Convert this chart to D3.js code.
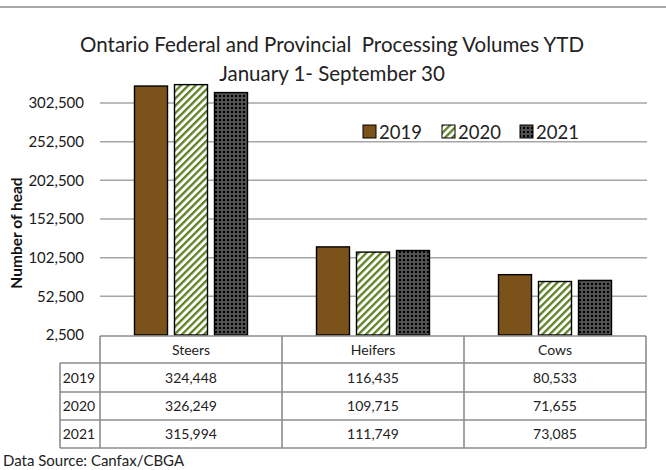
<!DOCTYPE html>
<html>
<head>
<meta charset="utf-8">
<script src="https://cdn.jsdelivr.net/npm/d3@7"></script>
<style>
  body { margin:0; background:#fff; }
  svg { display:block; font-family: Lato, "Open Sans", sans-serif; }
</style>
</head>
<body>
<svg id="chart" width="666" height="470"></svg>
<script>
const categories = ['Steers', 'Heifers', 'Cows'];
const years = ['2019', '2020', '2021'];
const values2019 = [324448, 116435, 80533];
const values2020 = [326249, 109715, 71655];
const values2021 = [315994, 111749, 73085];
const yTicks = [2500, 52500, 102500, 152500, 202500, 252500, 302500];

const seriesValues = [values2019, values2020, values2021];

const width = 666, height = 470;
const margin = { top: 103, right: 20, bottom: 135, left: 100 };
const plotRight = 646;
const axisY = 335;

const svg = d3.select('#chart');

// patterns
const defs = svg.append('defs');
const stripes = defs.append('pattern')
  .attr('id', 'stripes')
  .attr('patternUnits', 'userSpaceOnUse')
  .attr('width', 5.2).attr('height', 5.2)
  .attr('patternTransform', 'rotate(45)');
stripes.append('rect').attr('width', 5.2).attr('height', 5.2).attr('fill', '#fff');
stripes.append('rect').attr('width', 2.3).attr('height', 5.2).attr('fill', '#5e8122');

const weave = defs.append('pattern')
  .attr('id', 'weave')
  .attr('patternUnits', 'userSpaceOnUse')
  .attr('width', 4).attr('height', 4);
weave.append('rect').attr('width', 4).attr('height', 4).attr('fill', '#000');
weave.append('circle').attr('cx', 2).attr('cy', 2).attr('r', 1.3)
  .attr('fill', 'none').attr('stroke', '#fff').attr('stroke-width', 0.5);

const fills = ['#7b5219', 'url(#stripes)', 'url(#weave)'];

// top frame line
svg.append('line')
  .attr('x1', 0).attr('x2', width).attr('y1', 7).attr('y2', 7)
  .attr('stroke', '#a6a6a6').attr('stroke-width', 2);

// title
svg.append('text')
  .attr('x', 332).attr('y', 52)
  .attr('text-anchor', 'middle')
  .attr('font-size', 20.5)
  .attr('fill', '#222')
  .text('Ontario Federal and Provincial  Processing Volumes YTD')
  .style('white-space', 'pre');
svg.append('text')
  .attr('x', 332).attr('y', 81)
  .attr('text-anchor', 'middle')
  .attr('font-size', 20.5)
  .attr('fill', '#222')
  .text('January 1- September 30');

const x0 = d3.scaleBand().domain(categories).range([margin.left, plotRight]);
const x1 = d3.scaleBand().domain(years).range([0, 113]).paddingInner(0.175);
const y = d3.scaleLinear().domain([2500, 302500]).range([axisY, margin.top]);

// gridlines
svg.append('g')
  .selectAll('line')
  .data(yTicks.slice(1))
  .join('line')
  .attr('x1', margin.left).attr('x2', plotRight + 1)
  .attr('y1', d => y(d)).attr('y2', d => y(d))
  .attr('stroke', '#a6a6a6').attr('stroke-width', 1.5);

// y axis labels
const yAxis = d3.axisLeft(y).tickValues(yTicks).tickSize(0).tickPadding(0)
  .tickFormat(d3.format(','));
svg.append('g')
  .attr('transform', 'translate(84,0)')
  .call(yAxis)
  .call(g => g.select('.domain').remove())
  .call(g => g.selectAll('text')
    .attr('font-family', 'Lato, sans-serif')
    .attr('font-size', 15)
    .attr('fill', '#1a1a1a'));

svg.append('text')
  .attr('transform', 'translate(22,233) rotate(-90)')
  .attr('text-anchor', 'middle')
  .attr('font-size', 15.5)
  .attr('font-weight', 'bold')
  .attr('fill', '#111')
  .text('Number of head');

// bars
const groupOffset = (x0.bandwidth() - 113) / 2;
categories.forEach((cat, ci) => {
  years.forEach((yr, si) => {
    const v = seriesValues[si][ci];
    svg.append('rect')
      .attr('x', x0(cat) + groupOffset + x1(yr))
      .attr('y', y(v))
      .attr('width', x1.bandwidth())
      .attr('height', axisY - y(v))
      .attr('fill', fills[si])
      .attr('stroke', '#000')
      .attr('stroke-width', 1.4);
  });
});

// legend
const legendX = [363, 442, 520];
years.forEach((yr, i) => {
  svg.append('rect')
    .attr('x', legendX[i]).attr('y', 125)
    .attr('width', 13).attr('height', 13)
    .attr('fill', fills[i])
    .attr('stroke', '#000').attr('stroke-width', 1);
  svg.append('text')
    .attr('x', legendX[i] + 16).attr('y', 139)
    .attr('font-size', 18.5)
    .attr('fill', '#222')
    .text(yr);
});

// data table
const tableColor = '#8c8c8c';
const rowTop = [336, 363, 392, 420];
const tableBottom = 448;
const tableLeft = 60;
const tbl = svg.append('g').attr('stroke', tableColor).attr('stroke-width', 1.6);
tbl.append('line').attr('x1', margin.left).attr('x2', plotRight).attr('y1', rowTop[0]).attr('y2', rowTop[0]);
[rowTop[1], rowTop[2], rowTop[3], tableBottom].forEach(yy => {
  tbl.append('line').attr('x1', tableLeft).attr('x2', plotRight).attr('y1', yy).attr('y2', yy);
});
tbl.append('line').attr('x1', tableLeft).attr('x2', tableLeft).attr('y1', rowTop[1]).attr('y2', tableBottom);
categories.forEach(cat => {
  tbl.append('line').attr('x1', x0(cat)).attr('x2', x0(cat)).attr('y1', rowTop[0]).attr('y2', tableBottom);
});
tbl.append('line').attr('x1', plotRight).attr('x2', plotRight).attr('y1', rowTop[0]).attr('y2', tableBottom);

const fmt = d3.format(',');
categories.forEach(cat => {
  svg.append('text')
    .attr('x', x0(cat) + x0.bandwidth() / 2).attr('y', 355)
    .attr('text-anchor', 'middle').attr('font-size', 14).attr('fill', '#222')
    .text(cat);
});
years.forEach((yr, si) => {
  const cy = (rowTop[si + 1] + (rowTop[si + 2] || tableBottom)) / 2 + 5;
  svg.append('text')
    .attr('x', 79).attr('y', cy)
    .attr('text-anchor', 'middle').attr('font-size', 14).attr('fill', '#222')
    .text(yr);
  categories.forEach((cat, ci) => {
    svg.append('text')
      .attr('x', x0(cat) + x0.bandwidth() / 2).attr('y', cy)
      .attr('text-anchor', 'middle').attr('font-size', 14).attr('fill', '#222')
      .text(fmt(seriesValues[si][ci]));
  });
});

svg.append('text')
  .attr('x', 3).attr('y', 466)
  .attr('font-size', 15).attr('fill', '#222')
  .text('Data Source: Canfax/CBGA');
</script>
</body>
</html>
